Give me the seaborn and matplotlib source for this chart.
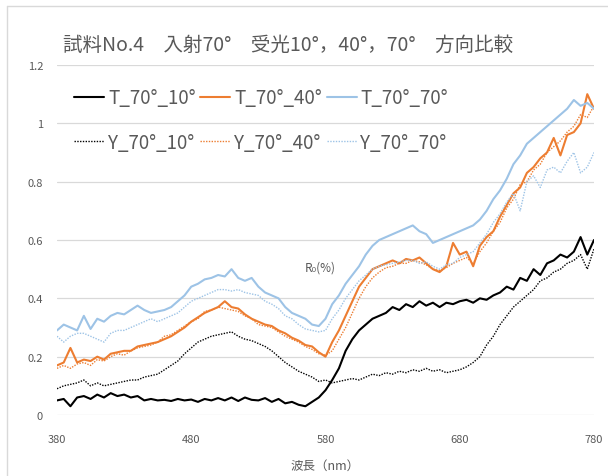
import numpy as np
import pandas as pd
import matplotlib
matplotlib.use("Agg")
import matplotlib.pyplot as plt
import seaborn as sns

# === Data (5 nm steps) ===
wavelength = np.arange(380, 781, 5)

t_70_10 = [0.05, 0.055, 0.03, 0.06, 0.065, 0.055, 0.07, 0.06, 0.075, 0.065,
           0.07, 0.06, 0.065, 0.05, 0.055, 0.05, 0.052, 0.048, 0.055, 0.05,
           0.053, 0.045, 0.055, 0.05, 0.058, 0.05, 0.06, 0.048, 0.06, 0.052,
           0.05, 0.058, 0.045, 0.055, 0.04, 0.045, 0.035, 0.03, 0.045, 0.06,
           0.085, 0.12, 0.16, 0.22, 0.26, 0.29, 0.31, 0.33, 0.34, 0.35,
           0.37, 0.36, 0.38, 0.37, 0.39, 0.375, 0.385, 0.37, 0.385, 0.38,
           0.39, 0.395, 0.385, 0.40, 0.395, 0.41, 0.42, 0.44, 0.43, 0.47,
           0.46, 0.50, 0.48, 0.52, 0.53, 0.55, 0.54, 0.56, 0.61, 0.55, 0.60]

y_70_10 = [0.09, 0.10, 0.105, 0.11, 0.12, 0.10, 0.11, 0.10, 0.105, 0.11,
           0.115, 0.12, 0.12, 0.13, 0.135, 0.14, 0.155, 0.17, 0.185, 0.21,
           0.23, 0.25, 0.26, 0.27, 0.275, 0.28, 0.285, 0.27, 0.26, 0.255,
           0.245, 0.235, 0.22, 0.20, 0.18, 0.165, 0.15, 0.14, 0.13, 0.115,
           0.12, 0.11, 0.115, 0.12, 0.125, 0.12, 0.13, 0.14, 0.135, 0.145,
           0.14, 0.15, 0.145, 0.155, 0.15, 0.16, 0.15, 0.155, 0.145, 0.15,
           0.155, 0.165, 0.18, 0.20, 0.24, 0.27, 0.31, 0.34, 0.37, 0.39,
           0.41, 0.43, 0.46, 0.47, 0.49, 0.50, 0.52, 0.53, 0.55, 0.50, 0.57]

t_70_40 = [0.17, 0.18, 0.23, 0.18, 0.19, 0.185, 0.20, 0.19, 0.21, 0.215,
           0.22, 0.22, 0.235, 0.24, 0.245, 0.25, 0.26, 0.27, 0.285, 0.30,
           0.32, 0.335, 0.35, 0.36, 0.37, 0.39, 0.37, 0.365, 0.345, 0.33,
           0.32, 0.31, 0.305, 0.29, 0.28, 0.265, 0.255, 0.24, 0.235, 0.215,
           0.20, 0.25, 0.29, 0.34, 0.39, 0.44, 0.47, 0.50, 0.51, 0.52,
           0.53, 0.52, 0.535, 0.53, 0.54, 0.52, 0.50, 0.49, 0.51, 0.59,
           0.55, 0.56, 0.51, 0.58, 0.61, 0.63, 0.68, 0.72, 0.76, 0.78,
           0.83, 0.85, 0.88, 0.90, 0.95, 0.89, 0.96, 0.97, 1.0, 1.1, 1.05]

y_70_40 = [0.16, 0.17, 0.16, 0.175, 0.18, 0.17, 0.19, 0.185, 0.20, 0.21,
           0.205, 0.22, 0.23, 0.235, 0.24, 0.25, 0.27, 0.275, 0.29, 0.305,
           0.32, 0.33, 0.355, 0.36, 0.37, 0.365, 0.36, 0.355, 0.34, 0.33,
           0.31, 0.305, 0.30, 0.285, 0.27, 0.26, 0.25, 0.235, 0.225, 0.21,
           0.205, 0.22, 0.26, 0.30, 0.35, 0.40, 0.44, 0.47, 0.49, 0.505,
           0.51, 0.52, 0.52, 0.53, 0.525, 0.515, 0.50, 0.495, 0.505, 0.52,
           0.53, 0.54, 0.52, 0.56, 0.59, 0.63, 0.66, 0.71, 0.74, 0.79,
           0.80, 0.84, 0.86, 0.90, 0.92, 0.94, 0.97, 0.99, 1.03, 1.02, 1.06]

t_70_70 = [0.29, 0.31, 0.30, 0.29, 0.34, 0.295, 0.33, 0.32, 0.34, 0.35,
           0.345, 0.36, 0.375, 0.36, 0.35, 0.355, 0.36, 0.37, 0.39, 0.41,
           0.44, 0.45, 0.465, 0.47, 0.48, 0.475, 0.50, 0.47, 0.46, 0.47,
           0.44, 0.42, 0.41, 0.40, 0.37, 0.35, 0.34, 0.33, 0.31, 0.305,
           0.33, 0.38, 0.41, 0.45, 0.48, 0.51, 0.55, 0.58, 0.60, 0.61,
           0.62, 0.63, 0.64, 0.65, 0.63, 0.62, 0.59, 0.60, 0.61, 0.62,
           0.63, 0.64, 0.65, 0.67, 0.70, 0.74, 0.77, 0.81, 0.86, 0.89,
           0.93, 0.95, 0.97, 0.99, 1.01, 1.03, 1.05, 1.08, 1.06, 1.07, 1.05]

y_70_70 = [0.27, 0.25, 0.27, 0.28, 0.28, 0.27, 0.26, 0.25, 0.28, 0.29,
           0.29, 0.30, 0.31, 0.32, 0.33, 0.32, 0.33, 0.34, 0.35, 0.37,
           0.39, 0.40, 0.41, 0.42, 0.43, 0.43, 0.425, 0.43, 0.42, 0.415,
           0.41, 0.39, 0.38, 0.365, 0.34, 0.33, 0.31, 0.295, 0.29, 0.285,
           0.29, 0.33, 0.36, 0.40, 0.43, 0.46, 0.48, 0.50, 0.51, 0.515,
           0.52, 0.525, 0.53, 0.53, 0.52, 0.525, 0.51, 0.50, 0.515, 0.52,
           0.54, 0.55, 0.56, 0.59, 0.62, 0.66, 0.69, 0.73, 0.76, 0.70,
           0.80, 0.82, 0.78, 0.84, 0.85, 0.83, 0.87, 0.90, 0.83, 0.85, 0.90]

labels = ["T_70°_10°", "Y_70°_10°", "T_70°_40°", "Y_70°_40°", "T_70°_70°", "Y_70°_70°"]
series = [t_70_10, y_70_10, t_70_40, y_70_40, t_70_70, y_70_70]

# === Style ===
sns.set_style("white")
plt.rcParams["font.family"] = ["Noto Sans CJK JP", "DejaVu Sans"]
grey = "#595959"
colors = ["#000000", "#000000", "#ED7D31", "#ED7D31", "#9DC3E6", "#9DC3E6"]
styles = ["-", (0, (1, 1)), "-", (0, (1, 1)), "-", (0, (1, 1))]
widths = [1.5, 1.0, 1.5, 1.0, 1.5, 1.0]

fig = plt.figure(figsize=(6.08, 4.77), dpi=100)
ax = fig.add_axes([57 / 608, 1 - 416 / 477, (594 - 57) / 608, (416 - 66) / 477])

# chart area border (top / left only visible)
fig.add_artist(plt.Line2D([7 / 608, 1], [1 - 7 / 477] * 2, color="#d9d9d9", lw=1))
fig.add_artist(plt.Line2D([7 / 608] * 2, [0, 1 - 7 / 477], color="#d9d9d9", lw=1))

for vals, lab, c, ls, lw in zip(series, labels, colors, styles, widths):
    sns.lineplot(x=wavelength, y=vals, ax=ax, color=c, linestyle=ls, linewidth=lw,
                 label=lab)

ax.set_xlim(380, 780)
ax.set_ylim(0, 1.2)
ax.set_xticks([380, 480, 580, 680, 780])
ax.set_yticks([0, 0.2, 0.4, 0.6, 0.8, 1.0, 1.2])
ax.set_yticklabels(["0", "0.2", "0.4", "0.6", "0.8", "1", "1.2"])
ax.tick_params(axis="both", length=0, labelsize=8, colors=grey)
ax.tick_params(axis="x", pad=14)
ax.tick_params(axis="y", pad=10)
ax.grid(axis="y", color="#d9d9d9", lw=0.9)
ax.set_axisbelow(True)
for s in ax.spines.values():
    s.set_visible(False)

ax.set_xlabel("波長（nm）", fontsize=9, color=grey, labelpad=10)
ax.set_ylabel("")
fig.text(305 / 608, 1 - 268 / 477, "R₀(%)", fontsize=8.5, color=grey,
         ha="left", va="center")

fig.text(63 / 608, 1 - 45 / 477, "試料No.4　入射70°　受光10°，40°，70°　方向比較",
         fontsize=14, color=grey, ha="left", va="center")

leg = ax.legend(loc="upper left", bbox_to_anchor=(65 / 608, 1 - 79 / 477),
                bbox_transform=fig.transFigure, ncol=3, frameon=False,
                fontsize=13.5, labelspacing=1.25, handlelength=1.6,
                handletextpad=0.2, columnspacing=0.25, borderpad=0)
for t in leg.get_texts():
    t.set_color(grey)

fig.savefig("out.png", dpi=100)
